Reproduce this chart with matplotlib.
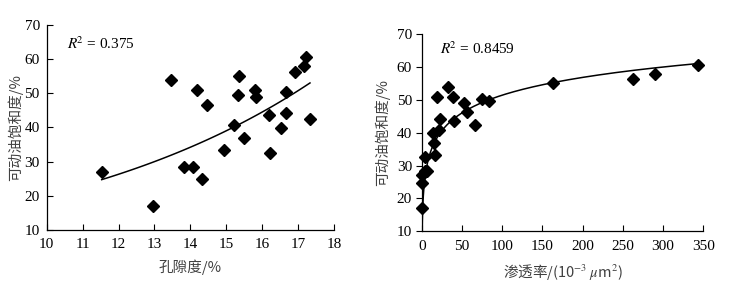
import numpy as np
import matplotlib
matplotlib.use("Agg")
import matplotlib.pyplot as plt

plt.rcParams['font.family'] = ['Liberation Serif', 'DejaVu Sans']
plt.rcParams['mathtext.fontset'] = 'stix'

# data (same samples in both panels)
saturation = [27.0, 17.0, 53.8, 28.5, 28.3, 51.0, 24.8, 46.4, 33.3, 40.8, 49.5, 55.1,
              36.8, 50.8, 49.0, 43.6, 32.5, 39.8, 44.2, 50.4, 56.2, 58.0, 60.6, 42.3]
porosity = [11.53, 12.97, 13.47, 13.83, 14.06, 14.19, 14.33, 14.45, 14.94, 15.21, 15.33, 15.35,
            15.50, 15.79, 15.82, 16.18, 16.22, 16.52, 16.66, 16.67, 16.90, 17.15, 17.21, 17.33]
permeability = [0.5, 0.4, 33.2, 4.6, 6.7, 18.5, 0.2, 56.3, 16.4, 21.0, 83.6, 163.0,
                15.5, 38.7, 52.1, 39.5, 3.8, 14.3, 23.1, 75.2, 263.0, 290.0, 343.0, 66.0]

# logarithmic trend: y = a*ln(x) + b
perm_trend_a = 7.8
perm_trend_b = 15.5

r2_left = "0.375"
r2_right = "0.8459"
xlabel_left = "孔隙度/%"
xlabel_right = "渗透率/(10$^{-3}$ $\\mu$m$^2$)"
ylabel = "可动油饱和度/%"

sat = np.array(saturation)
por = np.array(porosity)
perm = np.array(permeability)

fig = plt.figure(figsize=(7.43, 2.90), dpi=100)
axL = fig.add_axes([0.0629, 0.2069, 0.3867, 0.708])
axR = fig.add_axes([0.5676, 0.2024, 0.379, 0.680])

cjk = ['Noto Sans CJK SC', 'DejaVu Sans']
lab_color = '#404040'

# left: exponential trend
b, lna = np.polyfit(por, np.log(sat), 1)
xs = np.linspace(por.min(), por.max(), 100)
axL.plot(xs, np.exp(lna) * np.exp(b * xs), color='black', lw=1.1, zorder=2)
axL.plot(por, sat, 'D', color='black', ms=6.0, zorder=3)
axL.set_xlim(10, 18)
axL.set_ylim(10, 70)
axL.set_xticks(np.arange(10, 19, 1))
axL.set_yticks(np.arange(10, 71, 10))
axL.tick_params(axis='x', direction='in', length=4, width=0.8, labelsize=11, pad=6)
axL.tick_params(axis='y', direction='in', length=4, width=0.8, labelsize=11, pad=5)
axL.text(10.57, 64.4, r"$R^{\!2}$ = " + r2_left, fontsize=11, va='center', ha='left')
axL.set_xlabel(xlabel_left, family=cjk, fontsize=10.5, color=lab_color, labelpad=6)
axL.set_ylabel(ylabel, family=cjk, fontsize=10.5, color=lab_color, labelpad=1)

# right: logarithmic trend
xs2 = np.linspace(0.05, perm.max(), 3000)
axR.plot(xs2, perm_trend_a * np.log(xs2) + perm_trend_b, color='black', lw=1.1,
         zorder=2, clip_on=True)
axR.plot(perm, sat, 'D', color='black', ms=6.0, zorder=3, clip_on=False)
axR.set_xlim(0, 350)
axR.set_ylim(10, 70)
axR.set_xticks(np.arange(0, 351, 50))
axR.set_yticks(np.arange(10, 71, 10))
axR.tick_params(axis='x', direction='in', length=4, width=0.8, labelsize=11, pad=6)
axR.tick_params(axis='y', direction='out', length=4, width=0.8, labelsize=11, pad=3)
axR.text(22.7, 65.7, r"$R^{\!2}$ = " + r2_right, fontsize=11, va='center', ha='left')
axR.set_xlabel(xlabel_right, family=cjk, fontsize=10.5, color=lab_color, labelpad=7)
axR.set_ylabel(ylabel, family=cjk, fontsize=10.5, color=lab_color, labelpad=5)

for ax in (axL, axR):
    ax.spines['top'].set_visible(False)
    ax.spines['right'].set_visible(False)
    for s in ('left', 'bottom'):
        ax.spines[s].set_linewidth(0.9)

fig.savefig("out.png", dpi=100)
